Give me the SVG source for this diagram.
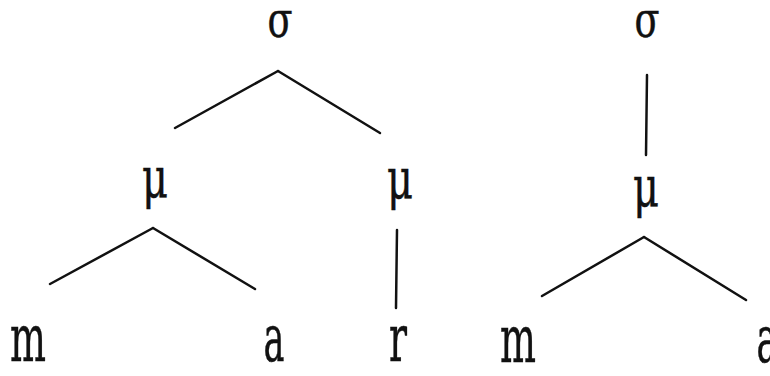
<svg xmlns="http://www.w3.org/2000/svg" width="770" height="376" viewBox="0 0 770 376">
<style>
text{font-family:'DejaVu Serif','Liberation Serif',serif;fill:#111;stroke:#111;stroke-width:0.5;text-anchor:middle}
.s{font-size:50px}
.u{font-size:56px}
.l{font-size:66px}
.c line{stroke:#111;stroke-width:2.5;stroke-linecap:round}
</style>
<rect width="770" height="376" fill="#fff"/>
<g class="c" id="connectors">
<line x1="278" y1="71" x2="175" y2="128"/>
<line x1="278" y1="71" x2="380" y2="133"/>
<line x1="153" y1="228" x2="50" y2="284"/>
<line x1="153" y1="228" x2="255" y2="289"/>
<line x1="397" y1="230" x2="396" y2="308"/>
<line x1="647" y1="75" x2="646" y2="155"/>
<line x1="644" y1="237" x2="542" y2="296"/>
<line x1="644" y1="237" x2="746" y2="300"/>
</g>
<g id="sigma1"><text class="s" x="280" y="37" textLength="25" lengthAdjust="spacingAndGlyphs">σ</text></g>
<g id="mu1"><text class="u" x="155" y="197" textLength="26" lengthAdjust="spacingAndGlyphs">μ</text></g>
<g id="mu2"><text class="u" x="400" y="198" textLength="26" lengthAdjust="spacingAndGlyphs">μ</text></g>
<g id="m1"><text class="l" x="28" y="361" textLength="36" lengthAdjust="spacingAndGlyphs">m</text></g>
<g id="a1"><text class="l" x="274" y="361" textLength="21" lengthAdjust="spacingAndGlyphs">a</text></g>
<g id="r1"><text class="l" x="398" y="361" textLength="18" lengthAdjust="spacingAndGlyphs">r</text></g>
<g id="sigma2"><text class="s" x="647" y="37" textLength="25" lengthAdjust="spacingAndGlyphs">σ</text></g>
<g id="mu3"><text class="u" x="646" y="206" textLength="26" lengthAdjust="spacingAndGlyphs">μ</text></g>
<g id="m2"><text class="l" x="518" y="362" textLength="36" lengthAdjust="spacingAndGlyphs">m</text></g>
<g id="a2"><text class="l" x="767" y="362" textLength="21" lengthAdjust="spacingAndGlyphs">a</text></g>
</svg>
